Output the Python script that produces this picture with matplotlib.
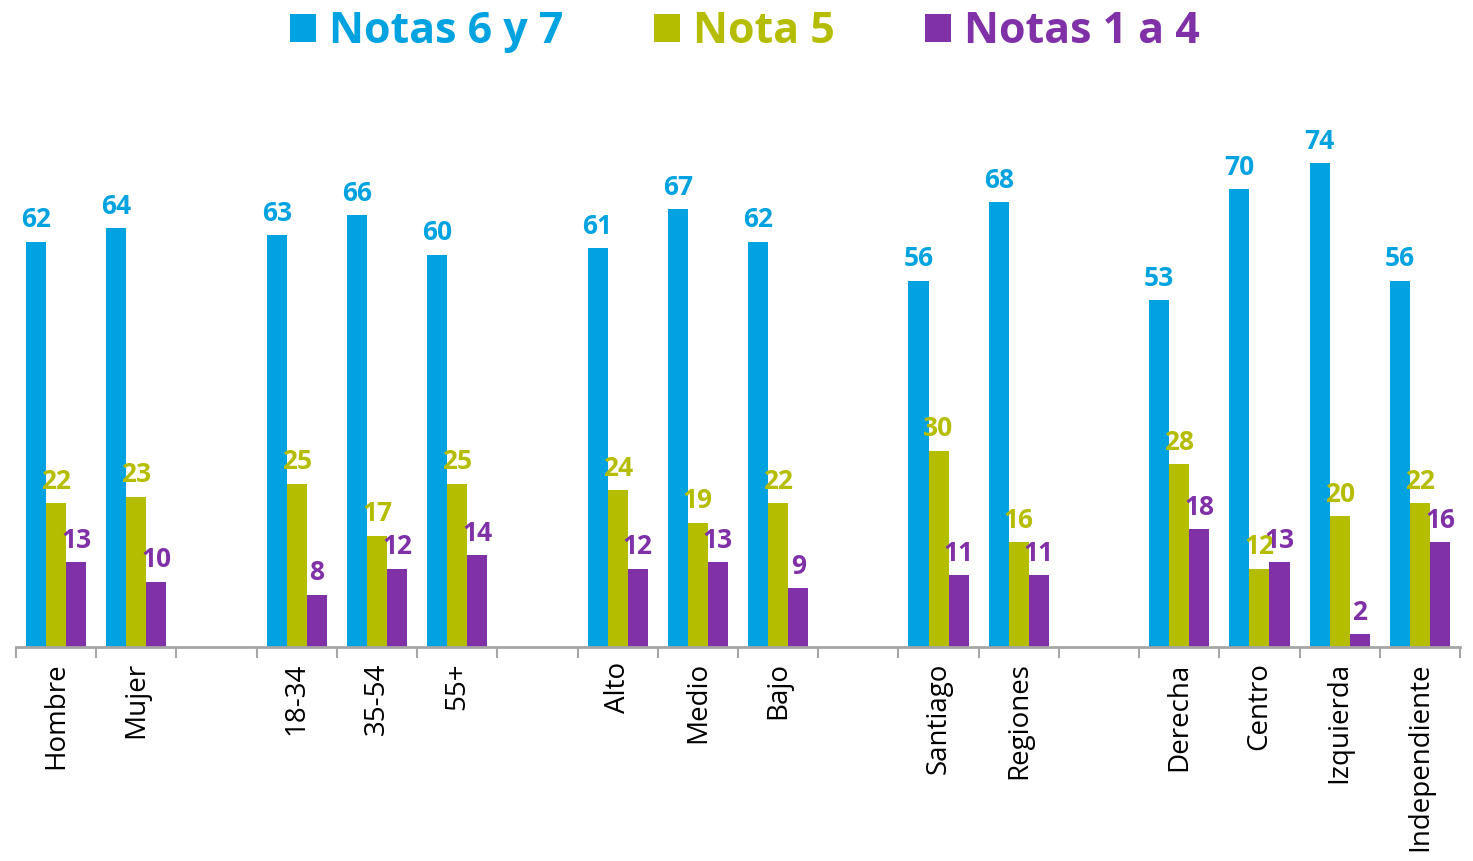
import matplotlib.pyplot as plt
import numpy as np

# categories, blank strings are the gaps between groups
categorias = ['Hombre', 'Mujer', '', '18-34', '35-54', '55+', '',
              'Alto', 'Medio', 'Bajo', '', 'Santiago', 'Regiones', '',
              'Derecha', 'Centro', 'Izquierda', 'Independiente']

notas_6_7 = [62, 64, None, 63, 66, 60, None, 61, 67, 62, None, 56, 68, None, 53, 70, 74, 56]
nota_5 = [22, 23, None, 25, 17, 25, None, 24, 19, 22, None, 30, 16, None, 28, 12, 20, 22]
notas_1_4 = [13, 10, None, 8, 12, 14, None, 12, 13, 9, None, 11, 11, None, 18, 13, 2, 16]

series = ['Notas 6 y 7', 'Nota 5', 'Notas 1 a 4']
colores = ['#00A3E0', '#B5BD00', '#8031A7']

plt.rcParams['font.family'] = ['Open Sans', 'DejaVu Sans']

fig = plt.figure(figsize=(14.73, 8.61), dpi=100)
ax = fig.add_axes([16 / 1473, (861 - 647) / 861, 1444 / 1473, 567 / 861])

x = np.arange(len(categorias))
ancho = 0.25
handles = []
for i, (valores, color) in enumerate(zip([notas_6_7, nota_5, notas_1_4], colores)):
    pos = [xi + (i - 1) * ancho for xi, v in zip(x, valores) if v is not None]
    vals = [v for v in valores if v is not None]
    b = ax.bar(pos, vals, width=ancho, color=color, label=series[i])
    handles.append(b)
    for p, v in zip(pos, vals):
        ax.annotate(str(v), (p, v), xytext=(0, 6), textcoords='offset points',
                    ha='center', va='bottom', color=color, fontsize=19,
                    fontweight='bold')

ax.set_xlim(-0.5, len(categorias) - 0.5)
ax.set_ylim(0, 86.7)
ax.set_xticks(x)
ax.set_xticklabels(categorias, rotation=90, fontsize=20, va='top')
ax.set_xticks(np.arange(-0.5, len(categorias)), minor=True)
ax.tick_params(axis='x', which='major', length=0, pad=11)
ax.tick_params(axis='x', which='minor', length=8, width=1.5, color='#A6A6A6', direction='out')
ax.set_yticks([])
for lado in ['top', 'right', 'left']:
    ax.spines[lado].set_visible(False)
ax.spines['bottom'].set_color('#A6A6A6')
ax.spines['bottom'].set_linewidth(2)

fig.legend(handles=handles, loc='upper center', bbox_to_anchor=(745 / 1473, 1.033),
           ncol=3, frameon=False, labelcolor=colores, handlelength=0.6,
           handleheight=0.6, handletextpad=0.3, columnspacing=2.1,
           prop={'weight': 'bold', 'size': 31})

fig.savefig('out.png', dpi=100)
